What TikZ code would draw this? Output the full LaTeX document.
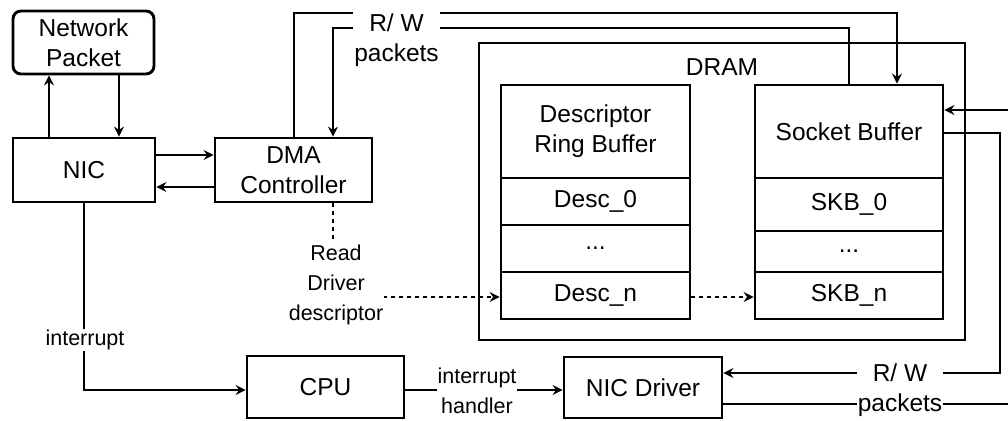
\documentclass[tikz,border=0pt]{standalone}
\usepackage{fontspec}
\setmainfont{Liberation Sans}
\usetikzlibrary{arrows.meta}

\newcommand\diagboxfont{\fontsize{24.5}{30}\selectfont}
\newcommand\diagtagfont{\fontsize{21.5}{30}\selectfont}

\begin{document}
\begin{tikzpicture}[x=1pt,y=-1pt,
  box/.style={draw, line width=2.9pt, inner sep=0pt, align=center, font=\diagboxfont},
  plain/.style={inner sep=0pt, align=center, font=\diagboxfont},
  arr/.style={line width=1.4pt, -{Stealth[length=10pt,width=10pt,inset=3.5pt]}},
  dasharr/.style={arr, dash pattern=on 4pt off 4pt},
  bigtag/.style={fill=white, inner xsep=1pt, inner ysep=4pt, align=center, font=\diagboxfont},
  smalltag/.style={fill=white, inner xsep=0.5pt, inner ysep=1pt, align=center, font=\diagtagfont}
]
\useasboundingbox (0,0) rectangle (1008,420);
\clip (0,0) rectangle (1008,420);

% hardware blocks
\node[box, rounded corners=8pt, minimum width=141pt, minimum height=63pt] (np) at (83.5,42.5) {Network\\Packet};
\node[box, minimum width=142pt, minimum height=64pt] (nic) at (84,170) {NIC};
\node[box, minimum width=157pt, minimum height=64pt] (dma) at (293.5,170) {DMA\\Controller};

% main memory with its two buffers
\node[box, minimum width=486pt, minimum height=297pt] (dram) at (722,191.5) {};
\node[plain] (dramtitle) at (722,67) {DRAM};

\node[box, minimum width=189pt, minimum height=93pt] (deschead) at (595.5,131.5) {Descriptor\\Ring Buffer};
\node[box, minimum width=189pt, minimum height=47pt] (desc0) at (595.5,201.5) {Desc\_0};
\node[box, minimum width=189pt, minimum height=47pt] (descdots) at (595.5,248.5) {...};
\node[box, minimum width=189pt, minimum height=47pt] (descn) at (595.5,295.5) {Desc\_n};

\node[box, minimum width=188pt, minimum height=93pt] (skbhead) at (849,131.5) {Socket Buffer};
\node[box, minimum width=188pt, minimum height=53pt] (skb0) at (849,204.5) {SKB\_0};
\node[box, minimum width=188pt, minimum height=41pt] (skbdots) at (849,251.5) {...};
\node[box, minimum width=188pt, minimum height=47pt] (skbn) at (849,295.5) {SKB\_n};

% processor and driver
\node[box, minimum width=157pt, minimum height=62pt] (cpu) at (325.5,387) {CPU};
\node[box, minimum width=158pt, minimum height=61pt] (drv) at (643,387.5) {NIC Driver};

% packet exchange between NIC and network
\draw[arr] (nic.north -| 49,0) -- (np.south -| 49,0);
\draw[arr] (np.south -| 119,0) -- (nic.north -| 119,0);

% NIC <-> DMA
\draw[arr] (nic.east |- 0,155) -- (dma.west |- 0,155);
\draw[arr] (dma.west |- 0,187) -- (nic.east |- 0,187);

% DMA <-> socket buffer
\draw[arr] (dma.north -| 294,0) |- (897,13) -- (skbhead.north -| 897,0);
\draw[arr] (skbhead.north) |- (333,28) -- (dma.north -| 333,0);

% socket buffer <-> NIC driver
\draw[arr] (skbhead.east |- 0,133) -| (1000,373) -- (drv.east |- 0,373);
\draw[arr] (drv.east |- 0,404) -| (1011,110) -- (skbhead.east |- 0,110);

% interrupt path
\draw[arr] (nic.south -| 84,0) |- (cpu.west |- 0,390);
\draw[arr] (cpu.east |- 0,390) -- (drv.west |- 0,390);

% descriptor reads
\draw[dasharr] (dma.south -| 333,0) |- (descn.west |- 0,297);
\draw[dasharr] (descn.east |- 0,297) -- (skbn.west |- 0,297);

% connector labels
\node[bigtag] (rwtop) at (396.5,40.5) {R/ W\\packets};
\node[bigtag] (rwbot) at (900,390.5) {R/ W\\packets};
\node[smalltag] (intlbl) at (85,340) {interrupt};
\node[smalltag] (ihlbl) at (477,390.5) {interrupt\\handler};
\node[smalltag] (rdlbl) at (336,284.5) {Read\\Driver\\descriptor};
\end{tikzpicture}
\end{document}
